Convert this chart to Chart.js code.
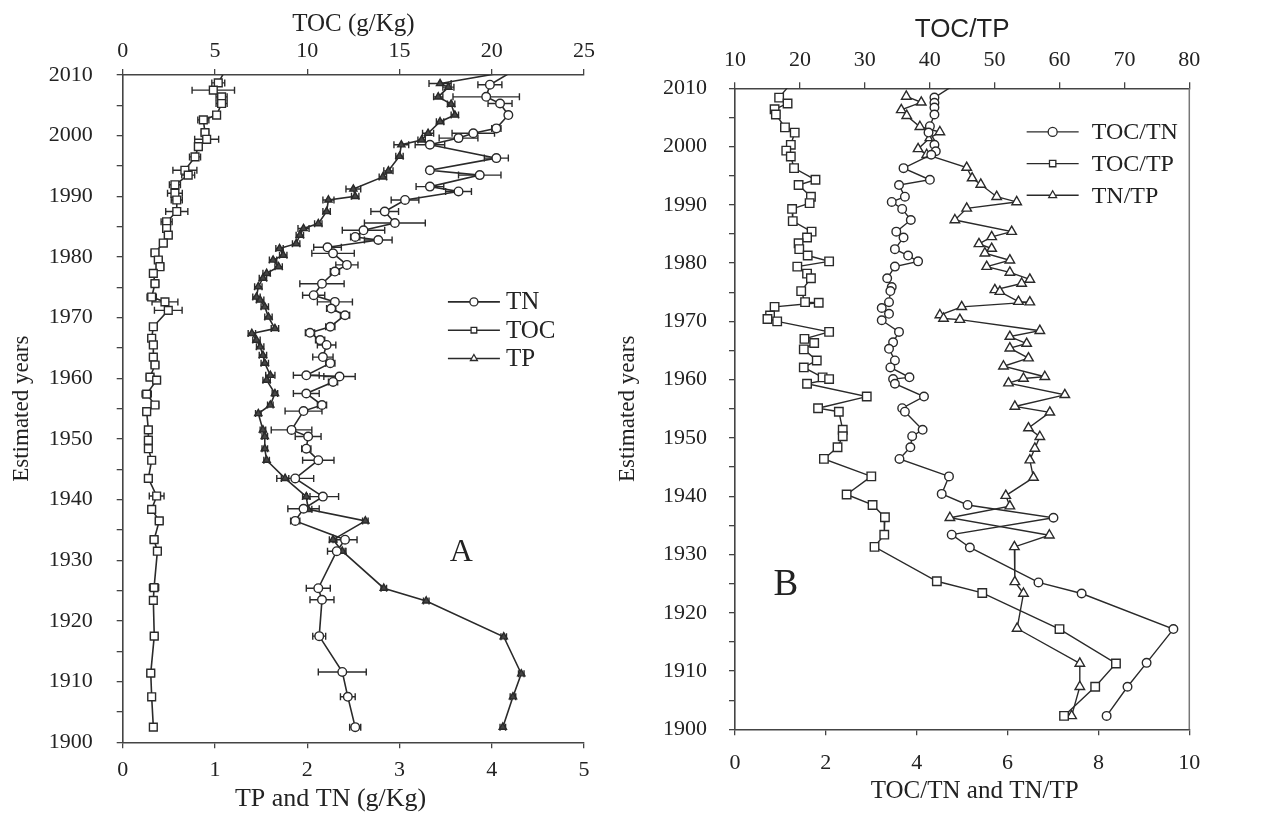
<!DOCTYPE html>
<html>
<head>
<meta charset="utf-8" />
<title>TOC, TN, TP and ratios - estimated years</title>
<script src="https://cdn.jsdelivr.net/npm/chart.js"></script>
<style>
    body {
        margin: 0;
        background: #fff;
    }
    #wrap {
        position: relative;
        width: 1272px;
        height: 816px;
    }
    #chartA { position: absolute; left: 0; top: 0; }
    #chartB { position: absolute; left: 600px; top: 0; }
</style>
</head>
<body>
<div id="wrap">
    <canvas id="chartA" width="600" height="816"></canvas>
    <canvas id="chartB" width="672" height="816"></canvas>
</div>
<script>
// ----- panel A : TN (circles), TOC (squares, top axis), TP (triangles) -----
const tnYears = [2011, 2008.4, 2006.4, 2005.3, 2003.4, 2001.2, 2000.4, 1999.6, 1998.5, 1996.3, 1994.3, 1993.5, 1991.6, 1990.8,
    1989.4, 1987.5, 1985.6, 1984.4, 1983.3, 1982.8, 1981.6, 1980.6, 1978.7, 1977.6, 1975.6, 1973.7, 1972.6, 1971.5, 1970.4,
    1968.5, 1967.5, 1966.3, 1965.5, 1963.5, 1962.5, 1960.5, 1960.3, 1959.4, 1957.5, 1955.6, 1954.6, 1951.5, 1950.4, 1948.4,
    1946.5, 1943.5, 1940.5, 1938.5, 1936.5, 1933.4, 1931.5, 1925.4, 1923.5, 1917.5, 1911.6, 1907.5, 1902.5];
const tnValues = [4.27, 3.98, 3.94, 4.09, 4.18, 4.05, 3.80, 3.64, 3.33, 4.05, 3.33, 3.87, 3.33, 3.64,
    3.06, 2.84, 2.95, 2.61, 2.52, 2.77, 2.22, 2.28, 2.43, 2.30, 2.16, 2.07, 2.30, 2.26, 2.41,
    2.25, 2.03, 2.14, 2.21, 2.17, 2.25, 1.99, 2.35, 2.28, 1.99, 2.16, 1.96, 1.83, 2.01, 1.99,
    2.12, 1.87, 2.17, 1.96, 1.87, 2.41, 2.32, 2.12, 2.16, 2.13, 2.38, 2.44, 2.52];
const tnErr = [0, 0.13, 0.36, 0.13, 0.03, 0.05, 0.23, 0.21, 0.16, 0.13, 0.03, 0.23, 0.15, 0.14,
    0.15, 0.15, 0.33, 0.23, 0.05, 0.15, 0.15, 0.23, 0.12, 0.05, 0.24, 0.12, 0.19, 0.05, 0.05,
    0.05, 0.05, 0.05, 0.10, 0.11, 0.05, 0.14, 0.17, 0.05, 0.14, 0.05, 0.20, 0.22, 0.14, 0.05,
    0.17, 0.20, 0.17, 0.17, 0.05, 0.13, 0.10, 0.13, 0.13, 0.07, 0.26, 0.08, 0.06];

const tocYears = [2011, 2008.7, 2007.5, 2006.4, 2005.3, 2003.4, 2002.6, 2000.5, 1999.4, 1998.2, 1996.5, 1994.3, 1993.5, 1991.9,
    1990.5, 1989.4, 1987.5, 1985.8, 1984.7, 1983.6, 1982.3, 1980.7, 1979.5, 1978.4, 1977.3, 1975.6, 1973.4, 1972.6, 1971.2,
    1968.5, 1966.6, 1965.5, 1963.5, 1962.2, 1960.2, 1959.7, 1957.4, 1955.6, 1954.5, 1951.5, 1949.8, 1948.4, 1946.5, 1943.5,
    1940.6, 1938.4, 1936.5, 1933.4, 1931.5, 1925.5, 1923.4, 1917.5, 1911.4, 1907.5, 1902.5];
const tocValues = [5.6, 5.18, 4.91, 5.36, 5.36, 5.09, 4.37, 4.46, 4.55, 4.10, 3.92, 3.37, 3.55, 2.83,
    2.83, 2.93, 2.93, 2.38, 2.38, 2.47, 2.20, 1.75, 1.93, 2.02, 1.66, 1.75, 1.57, 2.29, 2.47,
    1.66, 1.57, 1.66, 1.66, 1.75, 1.48, 1.84, 1.30, 1.75, 1.30, 1.39, 1.39, 1.39, 1.57, 1.39,
    1.84, 1.57, 1.98, 1.70, 1.88, 1.70, 1.66, 1.71, 1.52, 1.57, 1.66];
const tocErr = [0, 0.35, 1.15, 0.3, 0.3, 0.15, 0.3, 0.2, 0.65, 0.2, 0.3, 0.65, 0.35, 0.3,
    0.4, 0.3, 0.6, 0.3, 0.2, 0.2, 0.2, 0.2, 0.2, 0.2, 0.15, 0.2, 0.25, 0.7, 0.75,
    0.2, 0.2, 0.2, 0.2, 0.2, 0.2, 0.2, 0.25, 0.2, 0.2, 0.2, 0.2, 0.15, 0.15, 0.2,
    0.4, 0.2, 0.2, 0.2, 0.15, 0.25, 0.15, 0.2, 0.2, 0.15, 0.15];

const tpYears = [2011, 2008.6, 2008.0, 2006.4, 2005.2, 2003.4, 2002.3, 2000.4, 1999.3, 1998.5, 1996.6, 1994.2, 1993.2, 1991.2,
    1990.0, 1989.4, 1987.5, 1985.5, 1984.7, 1983.6, 1982.2, 1981.4, 1980.3, 1979.5, 1978.4, 1977.3, 1976.5, 1975.1, 1973.4,
    1972.9, 1971.8, 1970.1, 1968.2, 1967.4, 1966.3, 1965.2, 1963.8, 1962.5, 1960.5, 1959.7, 1957.5, 1955.6, 1954.2, 1951.5,
    1950.4, 1948.4, 1946.5, 1943.5, 1940.5, 1938.4, 1936.5, 1933.4, 1931.5, 1925.4, 1923.3, 1917.4, 1911.3, 1907.5, 1902.5];
const tpValues = [4.35, 3.44, 3.53, 3.42, 3.56, 3.60, 3.44, 3.31, 3.24, 3.02, 3.00, 2.88, 2.82, 2.50,
    2.52, 2.23, 2.21, 2.12, 1.96, 1.92, 1.88, 1.70, 1.74, 1.63, 1.69, 1.56, 1.52, 1.47, 1.45,
    1.49, 1.54, 1.58, 1.65, 1.40, 1.45, 1.49, 1.52, 1.54, 1.60, 1.56, 1.65, 1.60, 1.47, 1.52,
    1.54, 1.54, 1.56, 1.76, 1.99, 2.01, 2.63, 2.28, 2.38, 2.83, 3.29, 4.13, 4.32, 4.23, 4.12];
const tpErr = [0, 0.12, 0.06, 0.05, 0.04, 0.04, 0.04, 0.06, 0.04, 0.08, 0.04, 0.05, 0.04, 0.08,
    0.04, 0.06, 0.04, 0.04, 0.06, 0.04, 0.04, 0.04, 0.04, 0.04, 0.04, 0.04, 0.04, 0.04, 0.04,
    0.04, 0.04, 0.04, 0.04, 0.04, 0.04, 0.04, 0.04, 0.04, 0.05, 0.04, 0.03, 0.03, 0.03, 0.03,
    0.03, 0.03, 0.03, 0.04, 0.04, 0.04, 0.03, 0.04, 0.03, 0.03, 0.03, 0.03, 0.03, 0.03, 0.03];

// ----- panel B : TOC/TN (circles), TOC/TP (squares, top axis), TN/TP (triangles) -----
const tocTnYears = [2011, 2008.4, 2007.5, 2006.7, 2005.5, 2003.5, 2002.4, 2000.3, 1999.2, 1998.6, 1996.3, 1994.3, 1993.4, 1991.4,
    1990.5, 1989.3, 1987.4, 1985.4, 1984.4, 1982.4, 1981.3, 1980.3, 1979.4, 1977.4, 1975.9, 1975.2, 1973.3, 1972.3, 1971.3,
    1970.2, 1968.2, 1966.4, 1965.3, 1963.3, 1962.1, 1960.4, 1960.1, 1959.3, 1957.1, 1955.1, 1954.5, 1951.4, 1950.3, 1948.4,
    1946.4, 1943.4, 1940.4, 1938.5, 1936.3, 1933.4, 1931.2, 1925.2, 1923.3, 1917.2, 1911.4, 1907.3, 1902.3];
const tocTnValues = [4.91, 4.39, 4.39, 4.39, 4.39, 4.29, 4.26, 4.39, 4.42, 4.32, 3.71, 4.29, 3.61, 3.74,
    3.45, 3.68, 3.87, 3.55, 3.71, 3.52, 3.81, 4.03, 3.52, 3.35, 3.45, 3.42, 3.39, 3.23, 3.39,
    3.23, 3.61, 3.48, 3.39, 3.52, 3.42, 3.84, 3.48, 3.52, 4.16, 3.68, 3.74, 4.13, 3.90, 3.86,
    3.62, 4.71, 4.55, 5.12, 7.01, 4.77, 5.17, 6.68, 7.63, 9.65, 9.06, 8.64, 8.18];

const tocTpYears = [2011, 2008.4, 2007.4, 2006.4, 2005.5, 2003.3, 2002.4, 2000.3, 1999.3, 1998.3, 1996.3, 1994.3, 1993.4, 1991.4,
    1990.3, 1989.3, 1987.2, 1985.4, 1984.4, 1983.4, 1982.4, 1981.3, 1980.3, 1979.4, 1978.2, 1977.4, 1975.2, 1973.3, 1973.2,
    1972.5, 1971.0, 1970.4, 1970.0, 1968.2, 1967.0, 1966.3, 1965.2, 1963.3, 1962.1, 1960.4, 1960.1, 1959.3, 1957.1, 1955.1,
    1954.5, 1951.4, 1950.3, 1948.4, 1946.4, 1943.4, 1940.3, 1938.5, 1936.4, 1933.4, 1931.3, 1925.4, 1923.4, 1917.2, 1911.3,
    1907.3, 1902.3];
const tocTpValues = [18.75, 16.8, 18.1, 16.1, 16.3, 17.7, 19.2, 18.6, 17.9, 18.6, 19.1, 22.4, 19.8, 21.7,
    21.5, 18.8, 18.9, 21.8, 21.1, 19.8, 19.9, 21.2, 24.5, 19.6, 21.1, 21.7, 20.2, 20.8, 22.9,
    16.1, 15.4, 15.0, 16.5, 24.5, 20.7, 22.2, 20.6, 22.6, 20.6, 23.5, 24.5, 21.1, 30.3, 22.8,
    26.0, 26.6, 26.6, 25.8, 23.7, 31.0, 27.2, 31.2, 33.1, 33.0, 31.5, 41.1, 48.1, 60.0, 68.7,
    65.5, 60.7];

const tnTpYears = [2008.6, 2007.6, 2006.3, 2005.3, 2003.4, 2002.5, 2001.5, 1999.6, 1998.6, 1996.4, 1994.6, 1993.5, 1991.4,
    1990.5, 1989.4, 1987.4, 1985.4, 1984.5, 1983.3, 1982.5, 1981.7, 1980.5, 1979.4, 1978.4, 1977.2, 1976.5, 1975.4, 1975.1,
    1973.4, 1973.3, 1972.5, 1971.1, 1970.5, 1970.3, 1968.4, 1967.4, 1966.2, 1965.4, 1963.7, 1962.3, 1960.5, 1960.2, 1959.4,
    1957.4, 1955.4, 1954.4, 1951.7, 1950.2, 1948.2, 1946.2, 1943.2, 1940.1, 1938.3, 1936.3, 1933.3, 1931.3, 1925.3, 1923.3,
    1917.3, 1911.3, 1907.3, 1902.3];
const tnTpValues = [3.77, 4.10, 3.66, 3.78, 4.07, 4.51, 4.29, 4.03, 4.22, 5.10, 5.22, 5.41, 5.76,
    6.20, 5.10, 4.84, 6.09, 5.65, 5.37, 5.65, 5.50, 6.05, 5.54, 6.05, 6.49, 6.31, 5.72, 5.83,
    6.24, 6.49, 4.99, 4.51, 4.59, 4.95, 6.71, 6.05, 6.42, 6.05, 6.46, 5.91, 6.82, 6.35, 6.02,
    7.26, 6.16, 6.93, 6.46, 6.71, 6.60, 6.49, 6.57, 5.96, 6.05, 4.73, 6.92, 6.15, 6.16, 6.35,
    6.21, 7.59, 7.59, 7.41];

// axis ticks
const yearTicks = { min: 1900, max: 2010, step: 5 };
const axisA = { bottomMax: 5, bottomStep: 1, topMax: 25, topStep: 5 };
const axisB = { bottomMax: 10, bottomStep: 2, topMin: 10, topMax: 80, topStep: 10 };

const serif = "'Liberation Serif', 'Times New Roman', serif";
const nb = '\u00A0';
Chart.defaults.font.family = serif;
Chart.defaults.color = '#222';

function pts(xs, ys) {
    return xs.map((v, i) => ({ x: v, y: ys[i] }));
}

function marker(ctx, style, x, y, r) {
    ctx.beginPath();
    if (style === 'circle') {
        ctx.arc(x, y, r, 0, Math.PI * 2);
    } else if (style === 'rect') {
        const s = r * Math.SQRT1_2;
        ctx.rect(x - s, y - s, 2 * s, 2 * s);
    } else {
        ctx.moveTo(x, y - r);
        ctx.lineTo(x + r * 0.87, y + r * 0.5);
        ctx.lineTo(x - r * 0.87, y + r * 0.5);
        ctx.closePath();
    }
    ctx.fill();
    ctx.stroke();
}

// horizontal error bars with caps
const errorBars = {
    id: 'errorBars',
    beforeDatasetsDraw(chart) {
        const ctx = chart.ctx;
        const a = chart.chartArea;
        const yScale = chart.scales.y;
        chart.data.datasets.forEach(ds => {
            if (!ds.errors) return;
            const xScale = chart.scales[ds.xAxisID];
            ctx.save();
            ctx.beginPath();
            ctx.rect(a.left, a.top, a.right - a.left, a.bottom - a.top);
            ctx.clip();
            ctx.strokeStyle = ds.borderColor;
            ctx.lineWidth = 1.4;
            ds.data.forEach((p, j) => {
                const e = ds.errors[j];
                if (!e) return;
                const py = yScale.getPixelForValue(p.y);
                const x1 = xScale.getPixelForValue(p.x - e);
                const x2 = xScale.getPixelForValue(p.x + e);
                ctx.beginPath();
                ctx.moveTo(x1, py); ctx.lineTo(x2, py);
                ctx.moveTo(x1, py - 3.5); ctx.lineTo(x1, py + 3.5);
                ctx.moveTo(x2, py - 3.5); ctx.lineTo(x2, py + 3.5);
                ctx.stroke();
            });
            ctx.restore();
        });
    }
};

// legend inside the plot, panel letter, optional right frame line
const extras = {
    id: 'extras',
    afterDraw(chart, args, opts) {
        const ctx = chart.ctx;
        const a = chart.chartArea;
        const w = a.right - a.left, h = a.bottom - a.top;
        const lx = a.left + opts.legendX * w;
        const ly = a.top + opts.legendY * h;
        ctx.save();
        chart.data.datasets.forEach((ds, i) => {
            const cy = ly + i * opts.legendGap;
            ctx.strokeStyle = ds.borderColor;
            ctx.lineWidth = ds.borderWidth;
            ctx.beginPath();
            ctx.moveTo(lx, cy);
            ctx.lineTo(lx + opts.legendLen, cy);
            ctx.stroke();
            ctx.fillStyle = '#fff';
            ctx.lineWidth = 1.3;
            marker(ctx, ds.pointStyle, lx + opts.legendLen / 2, cy, opts.legendMarker);
            ctx.fillStyle = '#222';
            ctx.font = opts.legendFont;
            ctx.textAlign = 'left';
            ctx.textBaseline = 'middle';
            ctx.fillText(ds.label, lx + opts.legendLen + opts.legendPad, cy + 1);
        });
        ctx.font = opts.letterFont;
        ctx.textAlign = 'center';
        ctx.textBaseline = 'middle';
        ctx.fillStyle = '#222';
        ctx.fillText(opts.letter, a.left + opts.letterX * w, a.top + opts.letterY * h);
        if (opts.rightFrame) {
            ctx.strokeStyle = '#777';
            ctx.lineWidth = 1.5;
            ctx.beginPath();
            ctx.moveTo(a.right, a.top);
            ctx.lineTo(a.right, a.bottom);
            ctx.stroke();
        }
        ctx.restore();
    }
};

function fixed(size) {
    return function (scale) {
        if (scale.isHorizontal()) scale.height = size;
        else scale.width = size;
    };
}

const axisLine = { display: true, color: '#444', width: 1.6 };
const tickGrid = { drawOnChartArea: false, drawTicks: true, tickLength: 6, color: '#444', lineWidth: 1.3 };

function yearAxis(width, pad, titlePad) {
    return {
        type: 'linear',
        position: 'left',
        min: yearTicks.min,
        max: yearTicks.max,
        afterFit: fixed(width),
        border: axisLine,
        grid: tickGrid,
        ticks: {
            stepSize: yearTicks.step,
            autoSkip: false,
            padding: pad,
            font: { size: 22 },
            callback: v => (v % 10 === 0 ? String(v) : '')
        },
        title: { display: true, text: 'Estimated years', font: { size: 23 }, padding: { top: titlePad, bottom: 0 } }
    };
}

function lineSet(label, data, axis, style, radius, fill, width, errors) {
    return {
        label: label,
        data: data,
        xAxisID: axis,
        showLine: true,
        borderColor: '#2a2a2a',
        borderWidth: width,
        pointStyle: style,
        pointRadius: radius,
        pointBorderWidth: 1.4,
        pointBorderColor: '#2a2a2a',
        pointBackgroundColor: fill,
        errors: errors
    };
}

const common = {
    responsive: false,
    animation: false,
    events: [],
    plugins: { legend: { display: false }, tooltip: { enabled: false } }
};

new Chart(document.getElementById('chartA'), {
    type: 'scatter',
    data: {
        datasets: [
            lineSet('TN', pts(tnValues, tnYears), 'x', 'circle', 4.3, '#fff', 1.6, tnErr),
            lineSet('TOC', pts(tocValues, tocYears), 'xTop', 'rect', 5.5, '#fff', 1.6, tocErr),
            lineSet('TP', pts(tpValues, tpYears), 'x', 'triangle', 4.2, '#444', 1.6, tpErr)
        ]
    },
    options: {
        ...common,
        layout: { padding: { left: 0, right: 16, top: 0, bottom: 0 } },
        plugins: {
            ...common.plugins,
            extras: {
                legendX: 0.705, legendY: 0.34, legendGap: 28.3, legendLen: 52, legendPad: 6, legendMarker: 4,
                legendFont: '25px ' + serif,
                letter: 'A', letterX: 0.734, letterY: 0.716, letterFont: '32px ' + serif,
                rightFrame: false
            }
        },
        scales: {
            x: {
                type: 'linear', position: 'bottom', min: 0, max: axisA.bottomMax,
                afterFit: fixed(73.7), border: axisLine, grid: tickGrid,
                ticks: { stepSize: axisA.bottomStep, padding: 9, font: { size: 22 } },
                title: {
                    display: true, text: 'TP and TN (g/Kg)' + nb.repeat(7),
                    font: { size: 26 }, padding: { top: 0, bottom: 1 }
                }
            },
            xTop: {
                type: 'linear', position: 'top', min: 0, max: axisA.topMax,
                afterFit: fixed(75), border: axisLine, grid: tickGrid,
                ticks: { stepSize: axisA.topStep, padding: 5, font: { size: 22 } },
                title: { display: true, text: 'TOC (g/Kg)', font: { size: 25 }, padding: { top: 9, bottom: 0 } }
            },
            y: yearAxis(122.7, 24, 8)
        }
    },
    plugins: [errorBars, extras]
});

new Chart(document.getElementById('chartB'), {
    type: 'scatter',
    data: {
        datasets: [
            lineSet('TOC/TN', pts(tocTnValues, tocTnYears), 'x', 'circle', 4.3, '#fff', 1.4, null),
            lineSet('TOC/TP', pts(tocTpValues, tocTpYears), 'xTop', 'rect', 6, '#fff', 1.4, null),
            lineSet('TN/TP', pts(tnTpValues, tnTpYears), 'x', 'triangle', 5.5, '#fff', 1.4, null)
        ]
    },
    options: {
        ...common,
        layout: { padding: { left: 0, right: 82.7, top: 0, bottom: 0 } },
        plugins: {
            ...common.plugins,
            extras: {
                legendX: 0.642, legendY: 0.068, legendGap: 31.7, legendLen: 52, legendPad: 13, legendMarker: 4.5,
                legendFont: '24px ' + serif,
                letter: 'B', letterX: 0.112, letterY: 0.776, letterFont: '37px ' + serif,
                rightFrame: true
            }
        },
        scales: {
            x: {
                type: 'linear', position: 'bottom', min: 0, max: axisB.bottomMax,
                afterFit: fixed(86.7), border: axisLine, grid: tickGrid,
                ticks: { stepSize: axisB.bottomStep, padding: 15, font: { size: 22 } },
                title: {
                    display: true, text: nb.repeat(4) + 'TOC/TN and TN/TP',
                    font: { size: 25 }, padding: { top: 0, bottom: 10 }
                }
            },
            xTop: {
                type: 'linear', position: 'top', min: axisB.topMin, max: axisB.topMax,
                afterFit: fixed(88.3), border: axisLine, grid: tickGrid,
                ticks: { stepSize: axisB.topStep, padding: 9, font: { size: 22 } },
                title: {
                    display: true, text: 'TOC/TP',
                    font: { size: 26, family: "'Liberation Sans', Arial, sans-serif" },
                    padding: { top: 14, bottom: 0 }
                }
            },
            y: yearAxis(135, 22, 14)
        }
    },
    plugins: [errorBars, extras]
});
</script>
</body>
</html>
